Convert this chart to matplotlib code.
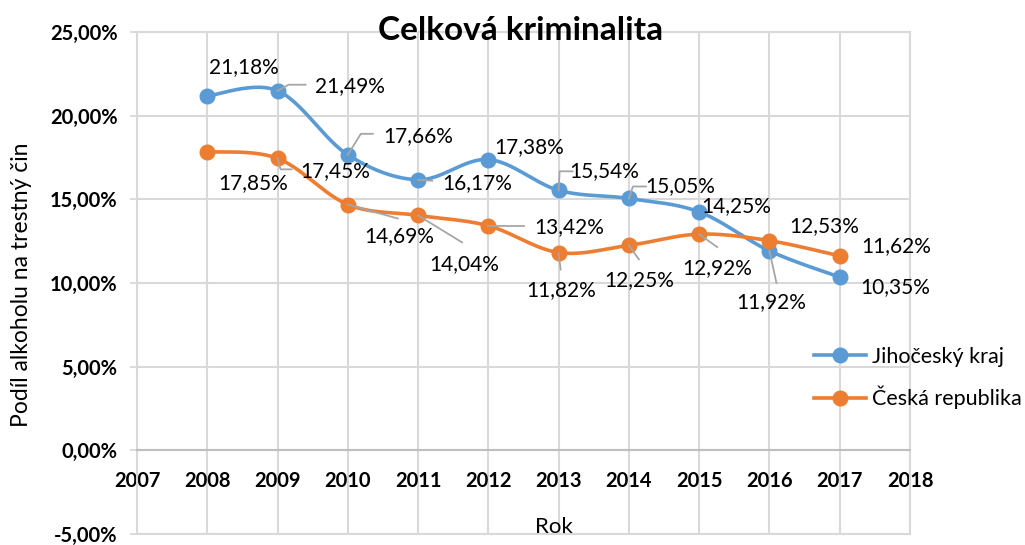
import numpy as np
import matplotlib
matplotlib.use("Agg")
import matplotlib.pyplot as plt
import matplotlib.transforms as mtransforms
from matplotlib.lines import Line2D

plt.rcParams["font.family"] = ["Lato", "DejaVu Sans"]

# data
years = [2008, 2009, 2010, 2011, 2012, 2013, 2014, 2015, 2016, 2017]
jihocesky = [21.18, 21.49, 17.66, 16.17, 17.38, 15.54, 15.05, 14.25, 11.92, 10.35]
cesko = [17.85, 17.45, 14.69, 14.04, 13.42, 11.82, 12.25, 12.92, 12.53, 11.62]
series_names = ["Jihočeský kraj", "Česká republika"]
y_ticks = [-5, 0, 5, 10, 15, 20, 25]
x_ticks = list(range(2007, 2019))

BLUE = "#5B9BD5"
ORANGE = "#ED7D31"
GRID = "#d9d9d9"
LEADER = "#a6a6a6"

# label offsets (pixels from the point) and leader line vertices
blue_off = [(37, 29), (72, 5), (70, 19), (59, -3), (41, 12), (46, 19), (51, 12), (37, 6), (2, -51), (55, -10)]
blue_lead = {1: [(0, 0), (11, 6), (28, 6)], 2: [(0, 0), (13, 21), (25, 21)], 3: [(0, 0), (14, -1)],
             5: [(0, 0), (1, 19), (14, 19)], 6: [(0, 0), (4, 12), (17, 12)], 8: [(0, 0), (7, -32)]}
orange_off = [(46, -31), (58, -13), (51, -32), (46, -49), (81, -1), (3, -38), (10, -35), (18, -34), (55, 15), (56, 10)]
orange_lead = {1: [(0, 0), (3, -11), (14, -11)], 2: [(0, 0), (50, -14)], 3: [(0, 0), (44, -27)],
               4: [(0, 0), (36, 0)], 5: [(0, 0), (2, -17)], 6: [(0, 0), (10, -14)], 7: [(0, 0), (18, -13)]}


def smooth(xs, ys, n=30):
    # Excel-like smoothed line (Catmull-Rom as cubic Bezier)
    p = np.column_stack([xs, ys]).astype(float)
    out = []
    for i in range(len(p) - 1):
        p0 = p[max(i - 1, 0)]
        p1, p2 = p[i], p[i + 1]
        p3 = p[min(i + 2, len(p) - 1)]
        c1 = p1 + (p2 - p0) / 6
        c2 = p2 - (p3 - p1) / 6
        t = np.linspace(0, 1, n)[:, None]
        seg = (1 - t) ** 3 * p1 + 3 * (1 - t) ** 2 * t * c1 + 3 * (1 - t) * t ** 2 * c2 + t ** 3 * p2
        out.append(seg if i == 0 else seg[1:])
    out = np.vstack(out)
    return out[:, 0], out[:, 1]


def fmt(v):
    return f"{v:.2f}%".replace(".", ",")


fig = plt.figure(figsize=(10.25, 5.45), dpi=100)
ax = fig.add_axes([137 / 1025, 1 - 534 / 545, (910 - 137) / 1025, (534 - 32) / 545])
ax.set_xlim(2007, 2018)
ax.set_ylim(-5, 25)

# spine position first: moving it resets the ticks
for s in ["top", "right", "left"]:
    ax.spines[s].set_color(GRID)
    ax.spines[s].set_linewidth(1.5)
ax.spines["bottom"].set_position(("data", 0))
ax.spines["bottom"].set_color("#bfbfbf")
ax.spines["bottom"].set_linewidth(1.5)

ax.set_xticks(x_ticks)
ax.set_xticklabels([str(x) for x in x_ticks], fontsize=14.5, fontweight="bold")
ax.set_yticks(y_ticks)
ax.set_yticklabels([fmt(v) for v in y_ticks], fontsize=14.5, fontweight="bold")
ax.tick_params(axis="x", length=0, pad=15)
ax.tick_params(axis="y", length=5, color=GRID, width=1.3, pad=9)
ax.grid(True, color=GRID, linewidth=1.5)
ax.set_axisbelow(True)
ax.axhline(-5, color=GRID, linewidth=1.5, clip_on=False, zorder=0)

for vals, col, offs, leads in [(jihocesky, BLUE, blue_off, blue_lead), (cesko, ORANGE, orange_off, orange_lead)]:
    sx, sy = smooth(years, vals)
    ax.plot(sx, sy, color=col, linewidth=2.6, solid_capstyle="round", zorder=3)
    ax.plot(years, vals, "o", color=col, markersize=10.5, zorder=4)
    for i, (x, v) in enumerate(zip(years, vals)):
        if i in leads:
            pts = np.array(leads[i]) / 100.0
            tr = fig.dpi_scale_trans + mtransforms.ScaledTranslation(x, v, ax.transData)
            ax.add_line(Line2D(pts[:, 0], pts[:, 1], transform=tr, color=LEADER, linewidth=1.3, zorder=5))
        ax.annotate(fmt(v), (x, v), xytext=offs[i], textcoords="offset pixels",
                    ha="center", va="center", fontsize=15, color="#000000", zorder=6)

handles = [Line2D([], [], color=BLUE, linewidth=2.6, marker="o", markersize=10.5),
           Line2D([], [], color=ORANGE, linewidth=2.6, marker="o", markersize=10.5)]
fig.legend(handles, series_names, loc="center left", bbox_to_anchor=(795 / 1025, 1 - 378 / 545),
           frameon=False, fontsize=15.5, handlelength=2.4, handletextpad=0.3, labelspacing=0.9)

fig.text(521 / 1025, 1 - 30 / 545, "Celková kriminalita", ha="center", va="center",
         fontsize=24, fontweight="bold")
fig.text(554 / 1025, 1 - 527 / 545, "Rok", ha="center", va="center", fontsize=16)
fig.text(22 / 1025, 1 - 285 / 545, "Podíl alkoholu na trestný čin", ha="center", va="center",
         rotation=90, fontsize=16.5)

fig.savefig("out.png", dpi=100)
